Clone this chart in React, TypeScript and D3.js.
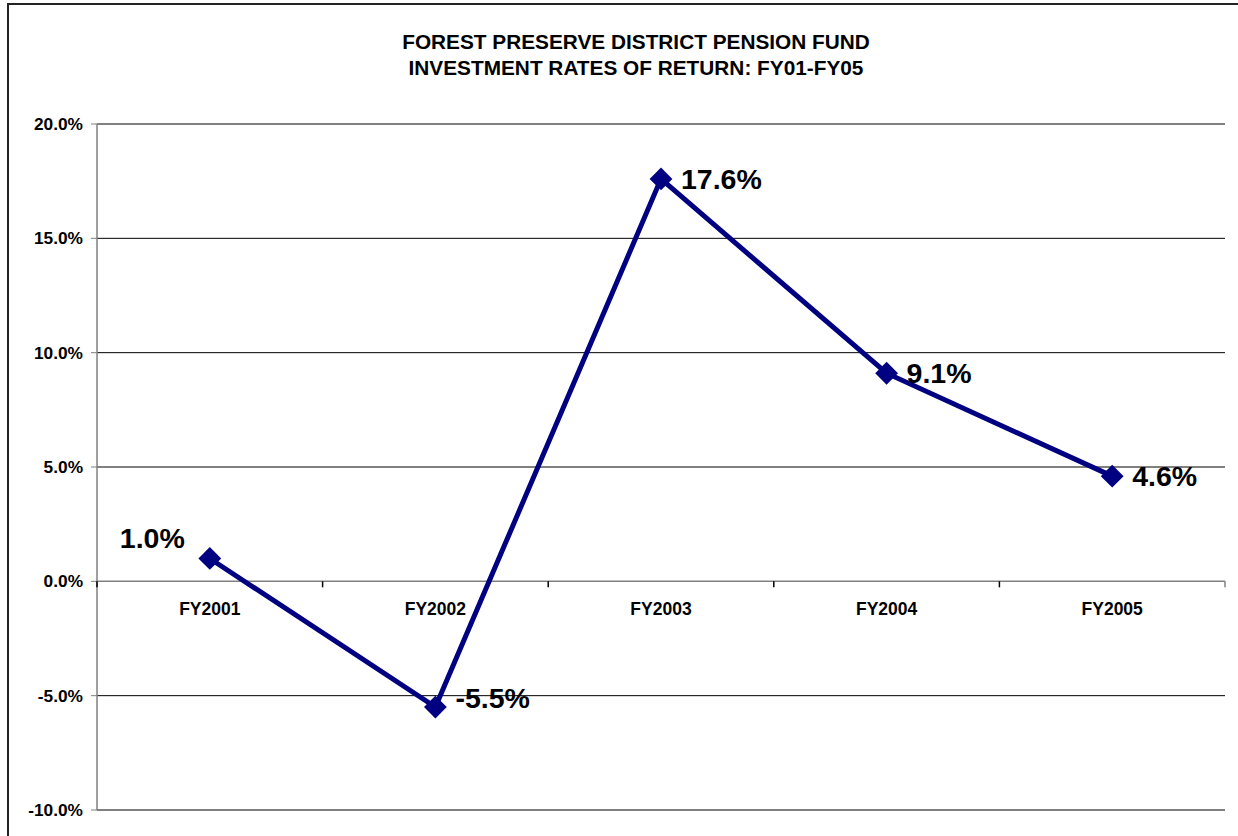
import React from "react";
import * as d3 from "d3";

const titleLines = ["FOREST PRESERVE DISTRICT PENSION FUND", "INVESTMENT RATES OF RETURN: FY01-FY05"];
const categories = ["FY2001", "FY2002", "FY2003", "FY2004", "FY2005"];
const returns = [1.0, -5.5, 17.6, 9.1, 4.6];
const yTicks = [-10, -5, 0, 5, 10, 15, 20];

const W = 1238;
const H = 836;
const left = 97;
const right = 1225;
const top = 124;
const bottom = 810;
const font = "'Liberation Sans', Arial, Helvetica, sans-serif";

export default function App() {
  const x = d3.scaleBand<string>().domain(categories).range([left, right]).padding(0);
  const y = d3.scaleLinear().domain([-10, 20]).range([bottom, top]);
  const cx = (c: string) => (x(c) as number) + x.bandwidth() / 2;
  const line = d3
    .line<number>()
    .x((_, i) => cx(categories[i]))
    .y((d) => y(d));
  const bounds = categories.map((c) => x(c) as number).concat([right]);
  const pct = (v: number) => v.toFixed(1) + "%";

  return (
    <svg width={W} height={H} style={{ position: "absolute", left: 0, top: 0, background: "#fff" }}>
      <rect x={0} y={0} width={W} height={H} fill="#fff" />
      <rect x={8} y={4} width={W + 20} height={H + 20} fill="none" stroke="#222" strokeWidth={2} />
      {titleLines.map((t, i) => (
        <text key={t} x={636} y={49 + i * 26} textAnchor="middle" fontFamily={font} fontWeight="bold" fontSize={20.8} fill="#000">
          {t}
        </text>
      ))}
      {yTicks
        .filter((t) => t !== 0)
        .map((t) => (
          <line key={"g" + t} x1={left} x2={right} y1={y(t)} y2={y(t)} stroke="#000" strokeWidth={1} />
        ))}
      <line x1={left} x2={left} y1={top} y2={bottom} stroke="#808080" strokeWidth={1.5} />
      {yTicks.map((t) => (
        <g key={"t" + t}>
          <line x1={left - 6} x2={left} y1={y(t)} y2={y(t)} stroke="#808080" strokeWidth={1} />
          <text x={83} y={y(t) + 6} textAnchor="end" fontFamily={font} fontWeight="bold" fontSize={17.3} fill="#000">
            {pct(t)}
          </text>
        </g>
      ))}
      <line x1={left} x2={right} y1={y(0)} y2={y(0)} stroke="#808080" strokeWidth={1.5} />
      {bounds.map((b, i) => (
        <line key={"xb" + i} x1={b} x2={b} y1={y(0)} y2={y(0) + 6} stroke={i === bounds.length - 1 ? "#808080" : "#000"} strokeWidth={1.5} />
      ))}
      {categories.map((c) => (
        <text key={c} x={cx(c)} y={615} textAnchor="middle" fontFamily={font} fontWeight="bold" fontSize={17.5} fill="#000">
          {c}
        </text>
      ))}
      <path d={line(returns) as string} fill="none" stroke="#000080" strokeWidth={5} strokeLinejoin="miter" />
      {returns.map((v, i) => (
        <path
          key={"m" + i}
          d={d3.symbol().type(d3.symbolSquare).size(260)() as string}
          transform={`translate(${cx(categories[i])},${y(v)}) rotate(45)`}
          fill="#000080"
        />
      ))}
      {returns.map((v, i) => {
        const px = cx(categories[i]);
        const py = y(v);
        if (i === 0) {
          return (
            <text key={"l" + i} x={px - 25} y={py - 10} textAnchor="end" fontFamily={font} fontWeight="bold" fontSize={28.5} fill="#000">
              {pct(v)}
            </text>
          );
        }
        const dy = i === 1 ? 1 : 10;
        return (
          <text key={"l" + i} x={px + 20} y={py + dy} textAnchor="start" fontFamily={font} fontWeight="bold" fontSize={28.5} fill="#000">
            {pct(v)}
          </text>
        );
      })}
    </svg>
  );
}
